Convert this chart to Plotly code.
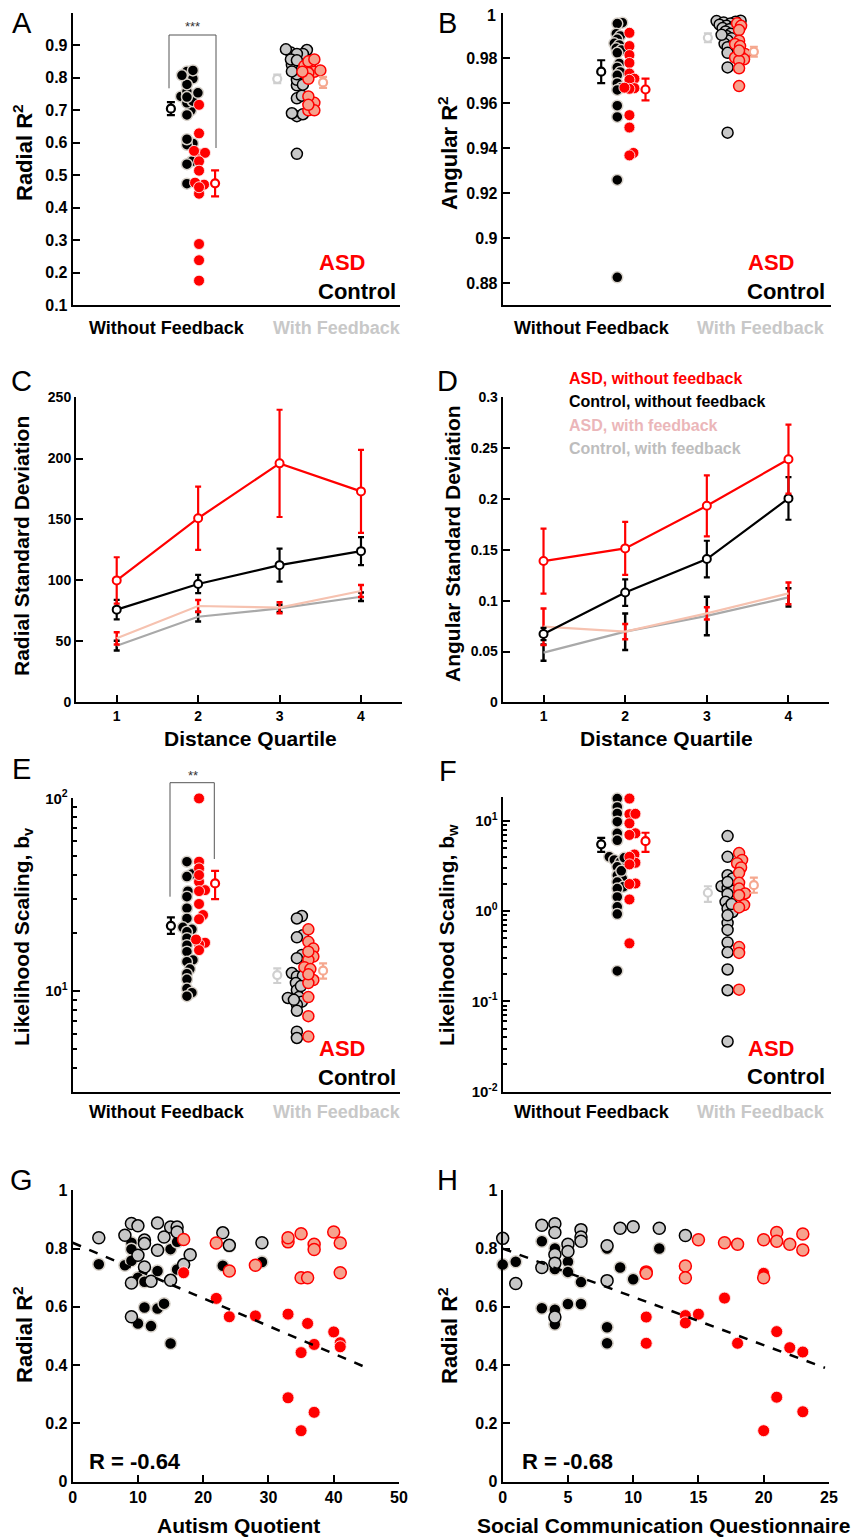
import numpy as np
import plotly.graph_objects as go

# The page body has an 8px margin, so the figure is sized to fit the 864x1538 window
OX, OY = 8, 8
FW, FH = 856, 1530
FONT = "Liberation Sans"

# ======================= DATA =======================
groups = ["Without Feedback", "With Feedback"]
legend_labels = ["ASD", "Control"]

# ---- Panel G : Radial R^2 vs Autism Quotient (also used for panel A) ----
g_aq_asd = [17, 22, 24, 28, 33, 33, 35, 35, 36, 37, 37, 40, 41, 41]
g_r2_asd_nofb = [0.717, 0.629, 0.566, 0.569, 0.575, 0.288, 0.443, 0.175, 0.543, 0.471, 0.238, 0.514, 0.477, 0.463]
g_r2_asd_fb = [0.831, 0.819, 0.723, 0.743, 0.823, 0.837, 0.851, 0.700, 0.700, 0.815, 0.797, 0.857, 0.819, 0.717]
g_aq_ctrl_nofb = [4, 8, 9, 9, 9, 10, 10, 11, 11, 12, 13, 13, 14, 15, 15, 16, 16, 18, 23, 24, 29]
g_r2_ctrl_nofb = [0.746, 0.743, 0.82, 0.798, 0.758, 0.70, 0.543, 0.686, 0.598, 0.534, 0.723, 0.594, 0.611,
                  0.798, 0.474, 0.823, 0.728, 0.78, 0.741, 0.808, 0.754]
g_aq_ctrl_fb = [4, 8, 9, 9, 9, 10, 10, 11, 11, 11, 12, 13, 13, 14, 15, 15, 16, 16, 17, 18, 23, 24, 29]
g_r2_ctrl_fb = [0.837, 0.846, 0.886, 0.682, 0.566, 0.878, 0.777, 0.829, 0.817, 0.737, 0.688, 0.888, 0.794,
                0.84, 0.874, 0.691, 0.874, 0.857, 0.745, 0.779, 0.854, 0.811, 0.82]
g_fit_intercept, g_fit_slope, g_fit_xmax = 0.82, -0.00952, 44.5
g_r_text = "R = -0.64"

# ---- Panel H : Radial R^2 vs SCQ ----
h_scq_asd_nofb = [11, 11, 14, 14, 15, 17, 18, 20, 21, 22, 23, 21, 23, 20]
h_r2_asd_nofb = [0.565, 0.475, 0.57, 0.545, 0.575, 0.63, 0.475, 0.715, 0.515, 0.46, 0.445, 0.29, 0.24, 0.175]
h_scq_asd_fb = [11, 11, 14, 14, 15, 17, 18, 20, 20, 21, 21, 22, 23, 23]
h_r2_asd_fb = [0.72, 0.715, 0.74, 0.70, 0.83, 0.82, 0.815, 0.83, 0.70, 0.855, 0.825, 0.815, 0.85, 0.795]
h_scq_ctrl_nofb = [0, 1, 3, 3, 4, 4, 4, 4, 5, 5, 5, 6, 6, 8, 8, 8, 9, 10, 12]
h_r2_ctrl_nofb = [0.745, 0.755, 0.825, 0.595, 0.80, 0.73, 0.59, 0.54, 0.755, 0.72, 0.61, 0.685, 0.61, 0.80,
                  0.53, 0.475, 0.735, 0.695, 0.80]
h_scq_ctrl_fb = [0, 1, 3, 3, 4, 4, 4, 4, 4, 5, 5, 6, 6, 6, 8, 8, 9, 10, 12, 14]
h_r2_ctrl_fb = [0.835, 0.68, 0.88, 0.735, 0.885, 0.855, 0.78, 0.75, 0.565, 0.815, 0.79, 0.865, 0.84, 0.825,
                0.81, 0.69, 0.87, 0.875, 0.87, 0.845]
h_fit_intercept, h_fit_slope, h_fit_xmax = 0.80, -0.01657, 24.7
h_r_text = "R = -0.68"

# ---- Panel A : group means / SEM  (order: ctrl nofb, asd nofb, ctrl fb, asd fb) ----
a_means = [0.705, 0.475, 0.797, 0.786]
a_sems = [0.02, 0.04, 0.013, 0.017]

# ---- Panel B : Angular R^2 ----
b_ctrl_nofb = [0.9959, 0.9955, 0.991, 0.990, 0.9885, 0.9867, 0.986, 0.9845, 0.9837, 0.9825, 0.9778, 0.976,
               0.974, 0.9725, 0.969, 0.967, 0.966, 0.959, 0.954, 0.926, 0.8827]
b_asd_nofb = [0.9914, 0.9855, 0.9815, 0.978, 0.9733, 0.971, 0.9705, 0.9668, 0.9665, 0.9548, 0.9493, 0.938,
              0.9369, 0.967]
b_ctrl_fb = [0.9968, 0.9966, 0.9963, 0.996, 0.9955, 0.995, 0.9945, 0.994, 0.9935, 0.993, 0.992, 0.991, 0.990,
             0.989, 0.988, 0.9865, 0.9855, 0.985, 0.9825, 0.976, 0.947, 0.9905]
b_asd_fb = [0.9956, 0.9945, 0.9926, 0.9879, 0.9864, 0.9855, 0.982, 0.9812, 0.9804, 0.9796, 0.979, 0.9756,
            0.9677, 0.9835]
b_means = [0.9741, 0.9662, 0.9892, 0.983]
b_sems = [0.0051, 0.0048, 0.002, 0.0022]
b_ticks = [0.88, 0.9, 0.92, 0.94, 0.96, 0.98, 1.0]
b_ticktext = ["0.88", "0.9", "0.92", "0.94", "0.96", "0.98", "1"]

# ---- Panel C : Radial SD by distance quartile ----
quartiles = [1, 2, 3, 4]
c_asd_nofb = [100, 151, 196, 173]
c_asd_nofb_err = [19, 26, 44, 34]
c_ctrl_nofb = [76, 97, 112.5, 124]
c_ctrl_nofb_err = [8, 7.5, 13.5, 11.5]
c_asd_fb = [52.5, 79, 77.6, 91.3]
c_asd_fb_err = [5, 5, 4.5, 5]
c_ctrl_fb = [46.4, 70.2, 77, 86.6]
c_ctrl_fb_err = [4, 4, 3, 3.5]

# ---- Panel D : Angular SD by distance quartile ----
d_asd_nofb = [0.139, 0.1515, 0.1934, 0.2393]
d_asd_nofb_err = [0.032, 0.026, 0.030, 0.034]
d_ctrl_nofb = [0.0672, 0.108, 0.141, 0.2007]
d_ctrl_nofb_err = [0.006, 0.013, 0.018, 0.021]
d_asd_fb = [0.0744, 0.0695, 0.0875, 0.1072]
d_asd_fb_err = [0.018, 0.0075, 0.006, 0.0107]
d_ctrl_fb = [0.0489, 0.0695, 0.085, 0.1033]
d_ctrl_fb_err = [0.008, 0.018, 0.019, 0.009]
d_legend = ["ASD, without feedback", "Control, without feedback", "ASD, with feedback", "Control, with feedback"]

# ---- Panel E : likelihood scaling b_v ----
e_ctrl_nofb = [46.9, 40.5, 39.3, 33.0, 30.9, 26.9, 23.8, 21.4, 20.9, 20.3, 18.8, 17.3, 16.0, 14.5, 14.2, 13.0,
               12.3, 11.5, 10.3, 9.8, 9.4]
e_asd_nofb = [100, 46.9, 43.3, 36.9, 33.4, 33.0, 28.3, 24.8, 23.6, 17.8, 17.5, 16.3, 40.0, 18.5]
e_ctrl_fb = [24.5, 23.8, 19.5, 19.0, 15.4, 12.4, 11.9, 12.0, 11.0, 10.1, 9.3, 9.2, 8.8, 8.5, 7.9, 6.15, 5.7,
             3.0, 10.6, 14.8, 9.0]
e_asd_fb = [20.9, 18.0, 16.6, 15.1, 14.5, 13.3, 13.0, 11.4, 11.0, 9.3, 7.4, 5.8, 16.0, 12.2]
e_means = [21.8, 36.2, 12.1, 12.75]
e_err_hi = [2.3, 5.8, 1.0, 1.15]
e_err_lo = [2.0, 6.2, 1.1, 1.15]

# ---- Panel F : likelihood scaling b_w ----
f_ctrl_nofb = [17.7, 14.3, 12.1, 9.8, 7.3, 6.1, 4.0, 3.7, 3.5, 3.1, 2.5, 2.3, 2.1, 1.86, 1.78, 1.44, 1.12,
               0.93, 0.218, 2.8, 3.9]
f_asd_nofb = [17.7, 11.9, 9.4, 7.3, 4.25, 3.44, 2.03, 1.35, 0.44, 12.0, 7.0, 4.0, 3.3, 2.0]
f_ctrl_fb = [6.8, 4.0, 2.5, 2.3, 1.89, 1.8, 1.68, 1.55, 1.27, 1.07, 0.98, 0.74, 0.62, 0.45, 0.35, 0.226,
             0.133, 0.036, 1.2, 2.1, 0.9]
f_asd_fb = [4.4, 3.7, 3.4, 3.05, 2.66, 2.06, 1.78, 1.57, 1.5, 1.17, 1.1, 0.40, 0.345, 0.135]
f_means = [5.5, 5.97, 1.6, 1.94]
f_err_hi = [1.0, 1.43, 0.29, 0.42]
f_err_lo = [0.95, 1.42, 0.33, 0.34]

# ======================= STYLE / LAYOUT =======================
RED = "#ff0000"
SALMON = "#f6a28d"
SALMON_MEAN = "#f5a88f"
LGRAY = "#c8c8c8"
GRAY_MEAN = "#cfcfcf"
HALO = "#d8d2ca"
SALMON_LINE = "#f6c2b0"
GRAY_LINE = "#a9a9a9"
PINK_TXT = "#ebb6b9"

# panel plot areas in screen pixels: (left, right, top, bottom)
P = {
    1: (72.7, 400.0, 13.0, 305.0),    # A
    2: (502.7, 831.0, 13.0, 305.0),   # B
    3: (76.0, 401.7, 397.3, 702.3),   # C
    4: (502.7, 829.3, 397.3, 702.3),  # D
    5: (72.7, 400.0, 798.3, 1091.7),  # E
    6: (502.7, 831.0, 797.3, 1091.7), # F
    7: (72.7, 399.3, 1190.0, 1481.7), # G
    8: (502.7, 829.3, 1190.0, 1481.7) # H
}
XR_CAT = [0, 10]
# category layout positions in x-data units
POS = dict(ctrl_nofb=3.49, asd_nofb=3.86, m_ctrl_nofb=3.0, m_asd_nofb=4.35,
           ctrl_fb=6.85, asd_fb=7.2, m_ctrl_fb=6.25, m_asd_fb=7.65)


def fx(sx):
    return (sx - OX) / FW


def fy(sy):
    return 1 - (sy - OY) / FH


fig = go.Figure()


def ax(n):
    return ("x" if n == 1 else f"x{n}"), ("y" if n == 1 else f"y{n}")


def axis_common(size):
    return dict(showline=True, linewidth=2, linecolor="black", showgrid=False, zeroline=False,
                automargin=False, ticklabeloverflow="allow",
                ticks="inside", ticklen=7, tickwidth=2, tickcolor="black",
                tickfont=dict(family=FONT, size=size, color="black", weight="bold"))


def setup_axes(n, xkw, ykw, size):
    l, r, t, b = P[n]
    xname = "xaxis" if n == 1 else f"xaxis{n}"
    yname = "yaxis" if n == 1 else f"yaxis{n}"
    xa, ya = ax(n)
    xd = axis_common(size); xd.update(domain=[fx(l), fx(r)], anchor=ya); xd.update(xkw)
    yd = axis_common(size); yd.update(domain=[fy(b), fy(t)], anchor=xa); yd.update(ykw)
    fig.update_layout(**{xname: xd, yname: yd})


def swarm_offsets(ypx, d=5.5, step=1.0):
    ypx = np.asarray(ypx, float)
    order = np.argsort(ypx)
    placed, out = [], np.zeros(len(ypx))
    for i in order:
        y = ypx[i]
        k = 0
        while True:
            cands = [0.0] if k == 0 else [k * step, -k * step]
            done = False
            for dx in cands:
                if all((dx - px) ** 2 + (y - py) ** 2 >= d * d for px, py in placed):
                    out[i] = dx
                    placed.append((dx, y))
                    done = True
                    break
            if done:
                break
            k += 1
    return out


def ann(text, x, y, size, color="black", bold=True, xanchor="center", angle=0, yanchor="middle"):
    fig.add_annotation(text=text, x=fx(x), y=fy(y), xref="paper", yref="paper", showarrow=False,
                       font=dict(family=FONT, size=size, color=color, weight="bold" if bold else "normal"),
                       xanchor=xanchor, yanchor=yanchor, textangle=angle)


def bracket(pts, color="#555555"):
    path = "M " + " L ".join(f"{fx(x)} {fy(y)}" for x, y in pts)
    fig.add_shape(type="path", path=path, xref="paper", yref="paper",
                  line=dict(color=color, width=1))


def cat_panel(n, yrange, log, series, means, err_hi, err_lo, size=11, dmin=5.5):
    l, r, t, b = P[n]
    xa, ya = ax(n)
    pxx = (r - l) / (XR_CAT[1] - XR_CAT[0])
    pxy = (b - t) / (yrange[1] - yrange[0])
    styles = {
        "ctrl_nofb": dict(color="black", line=dict(color=HALO, width=1.5)),
        "asd_nofb": dict(color=RED, line=dict(color="rgba(255,235,235,0.9)", width=1)),
        "ctrl_fb": dict(color=LGRAY, line=dict(color="black", width=1.5)),
        "asd_fb": dict(color=SALMON, line=dict(color=RED, width=1.5)),
    }
    for key in ["ctrl_nofb", "asd_nofb", "ctrl_fb", "asd_fb"]:
        vals = np.asarray(series[key], float)
        yv = np.log10(vals) if log else vals
        offs = swarm_offsets(yv * pxy, d=dmin)
        xs = POS[key] + offs / pxx
        fig.add_trace(go.Scatter(x=xs, y=vals, mode="markers", xaxis=xa, yaxis=ya, cliponaxis=False,
                                 marker=dict(size=size, **styles[key]), showlegend=False, hoverinfo="y"))
    mcols = ["black", RED, GRAY_MEAN, SALMON_MEAN]
    mkeys = ["m_ctrl_nofb", "m_asd_nofb", "m_ctrl_fb", "m_asd_fb"]
    for i in range(4):
        fig.add_trace(go.Scatter(
            x=[POS[mkeys[i]]], y=[means[i]], mode="markers", xaxis=xa, yaxis=ya, cliponaxis=False,
            marker=dict(size=8, color="white", line=dict(color=mcols[i], width=2.2)),
            error_y=dict(type="data", symmetric=False, array=[err_hi[i]], arrayminus=[err_lo[i]],
                         color=mcols[i], thickness=2.2, width=4),
            showlegend=False))


# ---------------- Panel A ----------------
setup_axes(1, dict(range=XR_CAT, showticklabels=False, ticks=""),
           dict(range=[0.1, 1.0], tickvals=[0.1, 0.2, 0.3, 0.4, 0.5, 0.6, 0.7, 0.8, 0.9]), 16)
cat_panel(1, [0.1, 1.0], False,
          dict(ctrl_nofb=g_r2_ctrl_nofb, asd_nofb=g_r2_asd_nofb, ctrl_fb=g_r2_ctrl_fb, asd_fb=g_r2_asd_fb),
          a_means, a_sems, a_sems)

# ---------------- Panel B ----------------
# the top label ("1") sits at the very top edge of the page; it is drawn as an annotation below
setup_axes(2, dict(range=XR_CAT, showticklabels=False, ticks=""),
           dict(range=[0.8704, 1.0002], tickvals=b_ticks, ticktext=b_ticktext[:-1] + [""]), 16)
cat_panel(2, [0.8704, 1.0002], False,
          dict(ctrl_nofb=b_ctrl_nofb, asd_nofb=b_asd_nofb, ctrl_fb=b_ctrl_fb, asd_fb=b_asd_fb),
          b_means, b_sems, b_sems, dmin=4.5)

# ---------------- Panel E ----------------
e_minor = [4, 5, 6, 7, 8, 9, 20, 30, 40, 50, 60, 70, 80, 90]
setup_axes(5, dict(range=XR_CAT, showticklabels=False, ticks=""),
           dict(type="log", range=[np.log10(3.0), 2.0005], tickvals=[10, 100],
                ticktext=["10<sup>1</sup>", "10<sup>2</sup>"],
                minor=dict(tickvals=e_minor, ticks="inside", ticklen=4, tickwidth=1.5, tickcolor="black")), 15)
cat_panel(5, [np.log10(3.0), 2.0005], True,
          dict(ctrl_nofb=e_ctrl_nofb, asd_nofb=e_asd_nofb, ctrl_fb=e_ctrl_fb, asd_fb=e_asd_fb),
          e_means, e_err_hi, e_err_lo)

# ---------------- Panel F ----------------
f_minor = [m * 10.0 ** k for k in (-2, -1, 0) for m in range(2, 10)]
setup_axes(6, dict(range=XR_CAT, showticklabels=False, ticks=""),
           dict(type="log", range=[-2.0005, 1.262], tickvals=[0.01, 0.1, 1, 10],
                ticktext=["10<sup>-2</sup>", "10<sup>-1</sup>", "10<sup>0</sup>", "10<sup>1</sup>"],
                minor=dict(tickvals=f_minor, ticks="inside", ticklen=4, tickwidth=1.5, tickcolor="black")), 15)
cat_panel(6, [-2.0005, 1.262], True,
          dict(ctrl_nofb=f_ctrl_nofb, asd_nofb=f_asd_nofb, ctrl_fb=f_ctrl_fb, asd_fb=f_asd_fb),
          f_means, f_err_hi, f_err_lo)


# ---------------- Panels C, D ----------------
def line_panel(n, fb_asd, fb_asd_e, fb_ctrl, fb_ctrl_e, nf_ctrl, nf_ctrl_e, nf_asd, nf_asd_e):
    xa, ya = ax(n)
    fig.add_trace(go.Scatter(x=quartiles, y=fb_ctrl, mode="lines", xaxis=xa, yaxis=ya,
                             line=dict(color=GRAY_LINE, width=2.2), showlegend=False,
                             error_y=dict(type="data", array=fb_ctrl_e, color="black", thickness=2.5, width=3)))
    fig.add_trace(go.Scatter(x=quartiles, y=fb_asd, mode="lines", xaxis=xa, yaxis=ya,
                             line=dict(color=SALMON_LINE, width=2.2), showlegend=False,
                             error_y=dict(type="data", array=fb_asd_e, color=RED, thickness=2.5, width=3)))
    fig.add_trace(go.Scatter(x=quartiles, y=nf_ctrl, mode="lines+markers", xaxis=xa, yaxis=ya,
                             line=dict(color="black", width=2.2), showlegend=False,
                             marker=dict(size=8, color="white", line=dict(color="black", width=2)),
                             error_y=dict(type="data", array=nf_ctrl_e, color="black", thickness=2.2, width=3)))
    fig.add_trace(go.Scatter(x=quartiles, y=nf_asd, mode="lines+markers", xaxis=xa, yaxis=ya,
                             line=dict(color=RED, width=2.2), showlegend=False,
                             marker=dict(size=8, color="white", line=dict(color=RED, width=2)),
                             error_y=dict(type="data", array=nf_asd_e, color=RED, thickness=2.2, width=3)))


setup_axes(3, dict(range=[0.5, 4.5], tickvals=quartiles),
           dict(range=[0, 250.2], tickvals=[0, 50, 100, 150, 200, 250]), 14)
line_panel(3, c_asd_fb, c_asd_fb_err, c_ctrl_fb, c_ctrl_fb_err, c_ctrl_nofb, c_ctrl_nofb_err,
           c_asd_nofb, c_asd_nofb_err)
setup_axes(4, dict(range=[0.5, 4.5], tickvals=quartiles),
           dict(range=[0, 0.3002], tickvals=[0, 0.05, 0.1, 0.15, 0.2, 0.25, 0.3],
                ticktext=["0", "0.05", "0.1", "0.15", "0.2", "0.25", "0.3"]), 14)
line_panel(4, d_asd_fb, d_asd_fb_err, d_ctrl_fb, d_ctrl_fb_err, d_ctrl_nofb, d_ctrl_nofb_err,
           d_asd_nofb, d_asd_nofb_err)


# ---------------- Panels G, H ----------------
def scatter_panel(n, xc_nf, yc_nf, xc_fb, yc_fb, xa_nf, ya_nf, xa_fb, ya_fb, b0, b1, xmax):
    xa, ya = ax(n)
    sty = [
        (xc_nf, yc_nf, dict(color="black", line=dict(color=HALO, width=1.5))),
        (xc_fb, yc_fb, dict(color=LGRAY, line=dict(color="black", width=1.5))),
        (xa_nf, ya_nf, dict(color=RED, line=dict(color="rgba(255,235,235,0.9)", width=1))),
        (xa_fb, ya_fb, dict(color=SALMON, line=dict(color=RED, width=1.5))),
    ]
    for xs, ys, st in sty:
        fig.add_trace(go.Scatter(x=xs, y=ys, mode="markers", xaxis=xa, yaxis=ya, cliponaxis=False,
                                 marker=dict(size=12, **st), showlegend=False))
    xl = np.array([0.0, xmax])
    fig.add_trace(go.Scatter(x=xl, y=b0 + b1 * xl, mode="lines", xaxis=xa, yaxis=ya,
                             line=dict(color="black", width=2.5, dash="dash"), showlegend=False))


setup_axes(7, dict(range=[0, 50.05], tickvals=[0, 10, 20, 30, 40, 50]),
           dict(range=[0, 1.001], tickvals=[0, 0.2, 0.4, 0.6, 0.8, 1], ticktext=["0", "0.2", "0.4", "0.6", "0.8", "1"]), 16)
scatter_panel(7, g_aq_ctrl_nofb, g_r2_ctrl_nofb, g_aq_ctrl_fb, g_r2_ctrl_fb, g_aq_asd, g_r2_asd_nofb,
              g_aq_asd, g_r2_asd_fb, g_fit_intercept, g_fit_slope, g_fit_xmax)
setup_axes(8, dict(range=[0, 25.03], tickvals=[0, 5, 10, 15, 20, 25]),
           dict(range=[0, 1.001], tickvals=[0, 0.2, 0.4, 0.6, 0.8, 1], ticktext=["0", "0.2", "0.4", "0.6", "0.8", "1"]), 16)
scatter_panel(8, h_scq_ctrl_nofb, h_r2_ctrl_nofb, h_scq_ctrl_fb, h_r2_ctrl_fb, h_scq_asd_nofb, h_r2_asd_nofb,
              h_scq_asd_fb, h_r2_asd_fb, h_fit_intercept, h_fit_slope, h_fit_xmax)

# ======================= TEXT =======================
for letter, (x, y) in zip("ABCDEFGH", [(22, 23), (448, 23), (22, 381), (448, 381),
                                        (22, 769), (448, 771), (22, 1180), (448, 1180)]):
    ann(letter, x, y, 29, bold=False)

# B: top tick label
ann(b_ticktext[-1], 498, 16, 16, xanchor="right")

# y-axis titles
ann("Radial R<sup>2</sup>", 23, 153, 22, angle=-90)
ann("Angular R<sup>2</sup>", 448, 153, 22, angle=-90)
ann("Radial Standard Deviation", 21, 546, 21, angle=-90)
ann("Angular Standard Deviation", 452, 544, 21, angle=-90)
ann("Likelihood Scaling, b<sub>v</sub>", 23, 937, 21, angle=-90)
ann("Likelihood Scaling, b<sub>w</sub>", 448, 935, 21, angle=-90)
ann("Radial R<sup>2</sup>", 23, 1335, 22, angle=-90)
ann("Radial R<sup>2</sup>", 448, 1335, 22, angle=-90)

# x-axis titles
ann("Distance Quartile", 250, 738, 21)
ann("Distance Quartile", 666, 738, 21)
ann("Autism Quotient", 238, 1525, 21)
ann("Social Communication Questionnaire", 663, 1525, 21)

# category labels
for (xw, xf, y) in [(167, 337, 328), (592, 761, 328), (167, 337, 1112), (592, 761, 1112)]:
    ann(groups[0], xw, y, 18, color="black")
    ann(groups[1], xf, y, 18, color=LGRAY)

# ASD / Control labels
for (xr, ya_, yc) in [(398, 263, 291), (827, 263, 291), (398, 1048, 1077), (827, 1048, 1076)]:
    ann(legend_labels[0], xr - 31, ya_, 22, color=RED, xanchor="right")
    ann(legend_labels[1], xr, yc, 22, color="black", xanchor="right")

# D legend
for txt, col, y in zip(d_legend, [RED, "black", PINK_TXT, "#bdbdbd"], [378, 402, 426, 449]):
    ann(txt, 567, y, 16, color=col, xanchor="left")

# correlation labels
ann(g_r_text, 87, 1461, 22, xanchor="left")
ann(h_r_text, 520, 1461, 22, xanchor="left")

# significance brackets
bracket([(169, 88.3), (169, 35), (216, 35), (216, 148)])
ann("***", 192, 27, 13, color="#333333", bold=False)
bracket([(170, 896.7), (170, 782.7), (214.3, 782.7), (214.3, 859)])
ann("**", 193, 775, 13, color="#333333", bold=False)

fig.update_layout(width=FW, height=FH, margin=dict(l=0, r=0, t=0, b=0, pad=0, autoexpand=False),
                  paper_bgcolor="white", plot_bgcolor="white", showlegend=False,
                  font=dict(family=FONT))
fig.write_html("out.html")
